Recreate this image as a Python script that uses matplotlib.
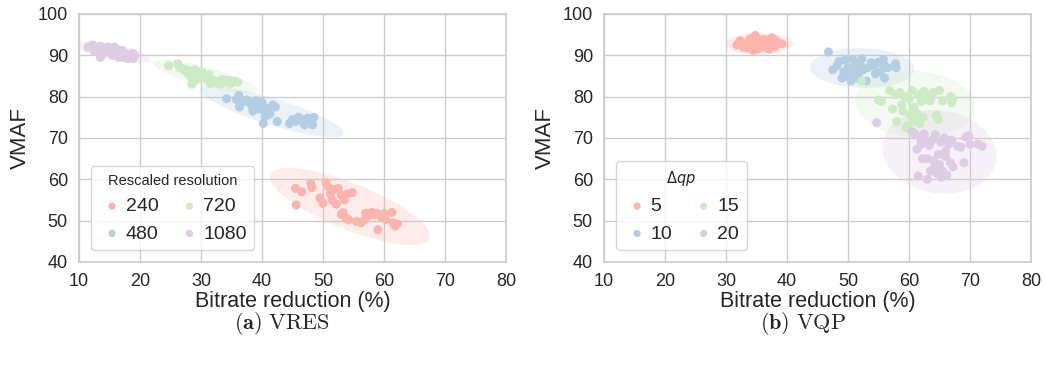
import numpy as np
import matplotlib
import matplotlib.pyplot as plt
import seaborn as sns
from matplotlib.patches import Ellipse
import matplotlib.transforms as transforms

matplotlib.use("Agg")

# ---- data: (a) VRES, points per rescaled resolution ----
res_labels = ["240", "480", "720", "1080"]

res240_x = [45.5, 46.5, 45.6, 48.0, 48.2, 49.5, 50.0, 50.5, 51.0, 51.2, 51.5, 51.8, 52.2,
            52.5, 53.0, 53.3, 53.5, 53.8, 54.2, 54.0, 54.8, 53.0, 56.2, 56.8, 57.0, 57.5,
            58.0, 58.5, 59.0, 59.5, 60.0, 60.3, 61.3, 61.5, 61.8, 62.2, 58.8, 55.5]
res240_y = [57.8, 57.0, 53.8, 59.0, 58.0, 55.5, 54.2, 59.2, 58.0, 56.5, 55.0, 57.5, 54.0,
            57.8, 56.2, 52.0, 55.0, 50.5, 50.2, 56.5, 56.8, 51.5, 49.5, 50.2, 51.8, 51.3,
            52.0, 51.5, 47.8, 51.0, 51.7, 50.3, 52.0, 49.5, 48.7, 49.2, 51.8, 49.8]

res480_x = [34.2, 35.8, 36.2, 36.3, 37.0, 37.5, 38.0, 38.3, 38.5, 39.0, 39.3, 39.6, 40.0,
            40.2, 40.5, 40.2, 41.0, 41.3, 41.8, 42.2, 42.5, 44.5, 45.0, 45.5, 46.0, 46.5,
            47.0, 47.5, 48.0, 48.3, 48.5, 46.8]
res480_y = [79.5, 79.3, 80.3, 77.5, 78.8, 79.2, 78.5, 77.8, 76.5, 79.0, 78.2, 77.0, 78.6,
            76.8, 75.2, 73.5, 77.2, 75.8, 78.0, 77.5, 74.0, 73.5, 74.5, 74.0, 75.0, 74.5,
            73.2, 74.8, 74.0, 73.2, 75.0, 73.7]

res720_x = [24.7, 26.2, 26.5, 27.0, 27.5, 28.0, 28.3, 28.5, 29.0, 29.5, 29.8, 30.0, 30.3,
            30.7, 31.0, 31.3, 31.5, 32.0, 32.5, 33.0, 33.5, 34.0, 34.5, 35.0, 35.5, 36.0,
            33.2, 34.8, 29.2, 27.8]
res720_y = [87.5, 88.0, 87.0, 86.8, 86.2, 85.5, 84.8, 83.0, 86.5, 86.0, 85.0, 84.5, 85.8,
            85.0, 84.2, 85.3, 83.2, 84.0, 83.5, 83.7, 84.2, 83.6, 84.0, 83.3, 83.8, 83.5,
            83.0, 83.2, 84.0, 86.5]

res1080_x = [11.5, 12.3, 12.8, 13.2, 13.5, 14.0, 14.3, 14.8, 15.2, 15.5, 15.8, 16.2, 16.5,
             16.8, 17.0, 17.3, 17.6, 18.0, 18.3, 18.6, 18.9, 19.1, 13.5, 12.5, 14.5, 15.0,
             16.0, 17.5, 18.8, 13.8]
res1080_y = [92.0, 92.5, 91.5, 91.0, 92.2, 90.5, 91.8, 92.0, 91.0, 90.0, 92.0, 91.5, 89.5,
             90.5, 91.2, 89.5, 90.0, 89.2, 90.0, 89.5, 89.3, 89.8, 89.5, 91.0, 90.8, 91.5,
             90.8, 90.5, 90.5, 91.7]

# ---- data: (b) VQP, points per delta qp ----
qp_labels = ["5", "10", "15", "20"]

qp5_x = [31.8, 32.3, 32.8, 33.2, 33.5, 34.0, 34.3, 34.8, 35.0, 35.2, 35.5, 35.8, 36.0,
         36.5, 36.8, 37.2, 37.5, 37.8, 38.0, 38.3, 39.2, 33.8, 34.5, 36.3, 37.0]
qp5_y = [92.5, 93.5, 92.0, 93.0, 91.8, 94.0, 92.8, 94.8, 93.5, 91.5, 92.5, 93.8, 92.2,
         93.0, 91.8, 92.5, 94.2, 93.0, 92.0, 93.5, 92.8, 92.5, 91.2, 93.8, 91.5]

qp10_x = [46.8, 47.5, 48.2, 48.5, 49.0, 49.3, 49.5, 50.0, 50.2, 50.5, 50.8, 51.0, 51.3,
          51.5, 51.8, 52.0, 52.3, 52.5, 53.0, 53.3, 53.8, 54.2, 55.0, 55.3, 55.8, 56.0,
          56.0, 56.5, 57.8, 57.9, 54.5]
qp10_y = [90.8, 86.5, 87.5, 88.5, 84.5, 86.0, 88.8, 87.0, 85.0, 83.8, 89.0, 86.5, 88.0,
          84.5, 85.8, 87.8, 89.2, 86.5, 83.8, 87.0, 88.2, 87.5, 88.3, 86.0, 89.0, 87.5,
          84.5, 87.0, 88.0, 87.0, 85.5]

qp15_x = [52.2, 55.0, 55.5, 56.8, 57.3, 57.8, 58.0, 58.5, 58.8, 59.0, 59.3, 59.5, 60.0,
          60.2, 60.5, 60.8, 61.0, 61.3, 61.5, 61.8, 62.0, 62.3, 62.8, 63.2, 63.5, 64.0,
          64.5, 64.8, 65.0, 65.5, 66.8, 67.0, 67.2, 62.5, 59.8]
qp15_y = [83.8, 79.2, 78.8, 81.5, 77.0, 80.5, 74.0, 81.0, 78.0, 76.5, 80.0, 72.5, 79.5,
          75.5, 81.5, 77.5, 74.0, 76.0, 80.5, 73.5, 78.8, 75.0, 79.5, 80.0, 79.0, 81.0,
          75.5, 74.5, 81.5, 79.0, 80.0, 78.5, 79.5, 81.3, 73.0]

qp20_x = [54.7, 60.5, 61.0, 61.3, 61.8, 62.0, 62.5, 62.8, 63.0, 63.3, 63.5, 63.8, 64.0,
          64.3, 64.5, 64.8, 65.0, 65.2, 65.5, 65.8, 66.0, 66.2, 66.5, 66.8, 67.0, 67.2,
          68.0, 68.5, 69.0, 69.3, 69.8, 70.0, 71.3, 72.0, 61.5, 63.0, 64.0, 65.3, 62.2, 66.0]
qp20_y = [73.7, 71.5, 71.0, 67.3, 70.0, 68.5, 71.0, 69.0, 65.0, 68.2, 62.0, 69.5, 64.5,
          70.8, 61.5, 66.0, 63.5, 69.0, 62.0, 70.0, 65.5, 61.0, 68.5, 64.0, 69.5, 63.0,
          68.0, 67.8, 64.0, 70.2, 70.5, 68.5, 68.5, 68.0, 60.8, 60.0, 62.5, 60.5, 65.0, 66.8]

vres_xs = [res240_x, res480_x, res720_x, res1080_x]
vres_ys = [res240_y, res480_y, res720_y, res1080_y]
vqp_xs = [qp5_x, qp10_x, qp15_x, qp20_x]
vqp_ys = [qp5_y, qp10_y, qp15_y, qp20_y]

sns.set_theme(style="whitegrid")
plt.rcParams["font.family"] = ["Liberation Sans", "DejaVu Sans"]
colors = sns.color_palette("Pastel1", 4)


def confidence_ellipse(ax, x, y, color, n_std=2.8):
    x = np.asarray(x)
    y = np.asarray(y)
    cov = np.cov(x, y)
    pearson = cov[0, 1] / np.sqrt(cov[0, 0] * cov[1, 1])
    rx = np.sqrt(1 + pearson)
    ry = np.sqrt(1 - pearson)
    ell = Ellipse((0, 0), width=rx * 2, height=ry * 2, facecolor=color,
                  edgecolor="none", alpha=0.25, zorder=1)
    sx = np.sqrt(cov[0, 0]) * n_std
    sy = np.sqrt(cov[1, 1]) * n_std
    tr = transforms.Affine2D().rotate_deg(45).scale(sx, sy).translate(x.mean(), y.mean())
    ell.set_transform(tr + ax.transData)
    ax.add_patch(ell)


def draw_panel(ax, xs, ys, labels, title):
    for x, y, lab, c in zip(xs, ys, labels, colors):
        confidence_ellipse(ax, x, y, c)
        ax.scatter(x, y, s=42, color=c, edgecolor="none", label=lab, zorder=2)
    ax.set_xlim(10, 80)
    ax.set_ylim(40, 100)
    ax.set_xticks(range(10, 81, 10))
    ax.set_yticks(range(40, 101, 10))
    ax.tick_params(labelsize=13, pad=2)
    ax.set_xlabel("Bitrate reduction (%)", fontsize=15.5, labelpad=1)
    ax.set_ylabel("VMAF", fontsize=16, labelpad=5)
    for s in ax.spines.values():
        s.set_color("#cccccc")
    leg = ax.legend(title=title, ncol=2, loc="lower left", fontsize=14,
                    title_fontsize=10.5, handletextpad=0.0, columnspacing=0.9,
                    handlelength=1.4, markerscale=0.8, borderaxespad=0.6)
    leg.get_title().set_math_fontfamily("dejavusans")
    return leg


fig = plt.figure(figsize=(10.45, 3.72), dpi=100)
ax1 = fig.add_axes([0.0756, 0.2957, 0.4086, 0.6667])
ax2 = fig.add_axes([0.578, 0.2957, 0.4086, 0.6667])

draw_panel(ax1, vres_xs, vres_ys, res_labels, "Rescaled resolution")
draw_panel(ax2, vqp_xs, vqp_ys, qp_labels, r"$\Delta qp$")

fig.text(0.270, 0.13, r"$\mathbf{(a)}\ \mathrm{VRES}$", ha="center", va="center",
         fontsize=16, math_fontfamily="cm")
fig.text(0.768, 0.13, r"$\mathbf{(b)}\ \mathrm{VQP}$", ha="center", va="center",
         fontsize=16, math_fontfamily="cm")

fig.savefig("out.png", dpi=100)
